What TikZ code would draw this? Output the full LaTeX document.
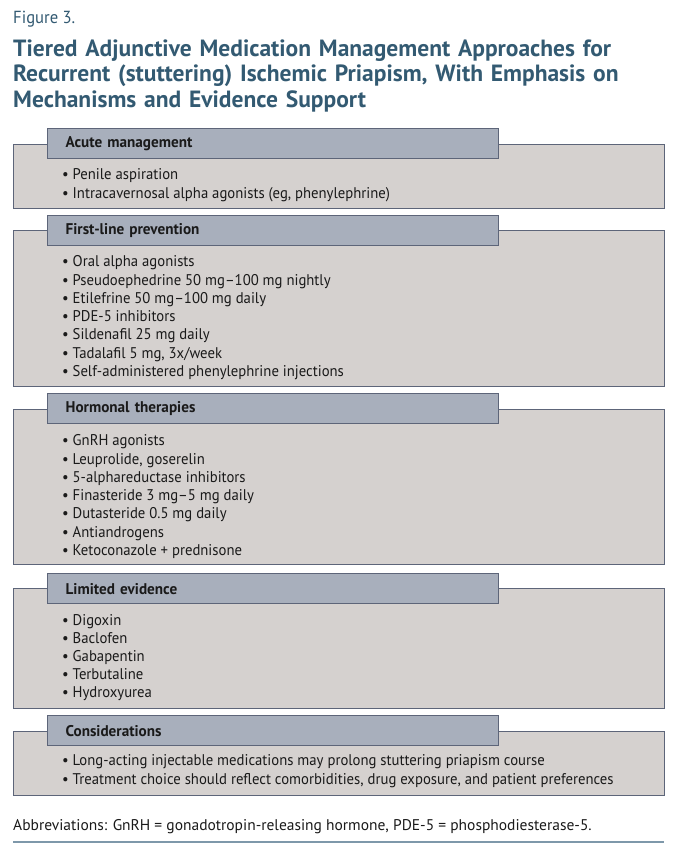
\documentclass[tikz,border=0pt]{standalone}
\usepackage{fontspec}
\setmainfont{PT Sans}
\newfontfamily\condfont{PT Sans}[Ligatures=TeX, FakeStretch=0.95]
\newfontfamily\headfont{PT Sans}[Ligatures=TeX, FakeStretch=0.98]
\usetikzlibrary{positioning,calc}
\definecolor{titleblue}{HTML}{335A72}
\definecolor{tabfill}{HTML}{A8AFBC}
\definecolor{panelfill}{HTML}{D5D1CF}
\definecolor{panelline}{HTML}{5D6579}
\definecolor{rulecolor}{HTML}{7E98AA}
\definecolor{bodytext}{HTML}{1A1A1A}
\tikzset{
    panel/.style={rectangle, draw=panelline, fill=panelfill, line width=1.3pt, minimum width=651pt, anchor=north west, inner sep=0pt},
    tab/.style={rectangle, draw=panelline, fill=tabfill, line width=1.3pt, minimum width=451pt, minimum height=30pt, anchor=north west, inner xsep=18pt, text width=415pt, align=left, text=bodytext, font=\headfont\bfseries\fontsize{15.5}{17}\selectfont},
    items/.style={anchor=north west, inner sep=0pt, align=left, text=bodytext, font=\condfont\fontsize{15.5}{18.3}\selectfont},
    heading/.style={anchor=north west, inner sep=0pt, align=left, text=titleblue},
}
\newcommand{\itm}[1]{\makebox[10.5pt][l]{\textbullet}#1}

\begin{document}
\begin{tikzpicture}[x=1pt, y=-1pt]
    \useasboundingbox (0,0) rectangle (677,855);

    % heading
    \node[heading, font=\condfont\fontsize{17.5}{20}\selectfont] (fig) at (13,11) {Figure 3.};
    \node[heading, text width=650pt, font=\bfseries\fontsize{23.5}{25.5}\selectfont] (title) at (13,39.5)
        {Tiered Adjunctive Medication Management Approaches for\\
         Recurrent (stuttering) Ischemic Priapism, With Emphasis on\\
         Mechanisms and Evidence Support};

    % acute management
    \node[panel, minimum height=64pt] (acute) at (13,144) {};
    \node[tab] (acutetab) at (47,128) {Acute management};
    \node[items, font=\condfont\fontsize{15.5}{19}\selectfont] (acuteitems) at (62,168.5) {\itm{Penile aspiration}\\
        \itm{Intracavernosal alpha agonists (eg, phenylephrine)}};

    % first-line prevention
    \node[panel, minimum height=156pt] (first) at (13,230) {};
    \node[tab] (firsttab) at (47,215) {First-line prevention};
    \node[items] (firstitems) at (62,255.5) {\itm{Oral alpha agonists}\\
        \itm{Pseudoephedrine 50 mg--100 mg nightly}\\
        \itm{Etilefrine 50 mg--100 mg daily}\\
        \itm{PDE-5 inhibitors}\\
        \itm{Sildenafil 25 mg daily}\\
        \itm{Tadalafil 5 mg, 3x/week}\\
        \itm{Self-administered phenylephrine injections}};

    % hormonal therapies
    \node[panel, minimum height=155pt] (hormonal) at (13,409) {};
    \node[tab] (hormonaltab) at (47,393) {Hormonal therapies};
    \node[items] (hormonalitems) at (62,434.5) {\itm{GnRH agonists}\\
        \itm{Leuprolide, goserelin}\\
        \itm{5-alphareductase inhibitors}\\
        \itm{Finasteride 3 mg--5 mg daily}\\
        \itm{Dutasteride 0.5 mg daily}\\
        \itm{Antiandrogens}\\
        \itm{Ketoconazole + prednisone}};

    % limited evidence
    \node[panel, minimum height=120pt] (limited) at (13,588) {};
    \node[tab] (limitedtab) at (47,573) {Limited evidence};
    \node[items, font=\condfont\fontsize{15.5}{17.9}\selectfont] (limiteditems) at (62,614.5) {\itm{Digoxin}\\
        \itm{Baclofen}\\
        \itm{Gabapentin}\\
        \itm{Terbutaline}\\
        \itm{Hydroxyurea}};

    % considerations
    \node[panel, minimum height=64pt] (consider) at (13,731) {};
    \node[tab] (considertab) at (47,715) {Considerations};
    \node[items, font=\condfont\fontsize{15.5}{19}\selectfont] (consideritems) at (62,754.5) {\itm{Long-acting injectable medications may prolong stuttering priapism course}\\
        \itm{Treatment choice should reflect comorbidities, drug exposure, and patient preferences}};

    % footnote
    \node[anchor=west, inner sep=0pt, text=bodytext, font=\fontsize{15.5}{17}\selectfont] (abbrev) at (13,827)
        {Abbreviations: GnRH = gonadotropin-releasing hormone, PDE-5 = phosphodiesterase-5.};
    \coordinate (ruleL) at (13,842);
    \coordinate (ruleR) at (664,842);
    \draw[rulecolor, line width=2pt] (ruleL) -- (ruleR);
\end{tikzpicture}
\end{document}
